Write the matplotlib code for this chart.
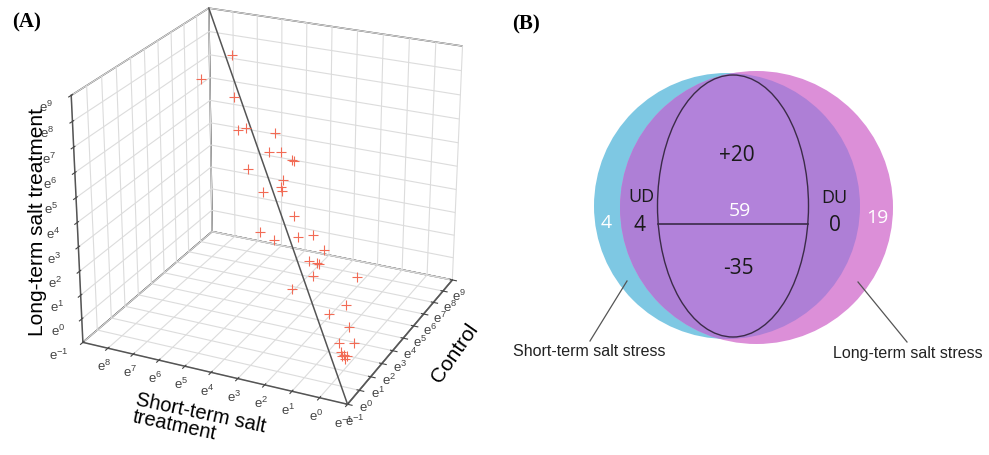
import numpy as np
import matplotlib
matplotlib.use("Agg")
import matplotlib.pyplot as plt
from matplotlib.patches import Circle, Ellipse

# ---- panel A data: log-expression (natural log) per gene ----
control = [7.13, 5.59, 6.97, 6.73, 6.06, 3.89, 4.37, 3.47, 2.72, 2.57,
           5.91, 3.36, 3.45, 3.39, 4.82, 2.60, 5.03, 3.99, 2.26, 1.27,
           0.62, 1.55, 1.02, 0.87, 1.27, 1.95, 2.65, -0.80, 0.20, -0.99,
           -0.42, 0.37, -0.71, -0.93, -0.77, -0.63, -0.56]
short_term = [7.13, 7.59, 6.97, 6.73, 6.06, 3.89, 4.37, 3.47, 2.72, 2.57,
              5.91, 3.36, 3.45, 3.39, 4.82, 2.60, 5.03, 3.99, 2.26, 1.27,
              0.62, 1.55, 1.02, 0.87, 1.27, -0.05, 2.65, -0.80, 0.20, -0.99,
              -0.42, -0.63, -0.71, -0.93, -0.77, -0.63, -0.56]
long_term = [7.97, 7.45, 6.27, 5.00, 5.47, 6.55, 5.49, 6.02, 6.16, 6.23,
             3.82, 4.96, 4.62, 4.48, 3.54, 3.97, 1.67, 2.04, 3.37, 4.11,
             3.98, 2.88, 3.16, 3.23, 2.46, 2.38, 0.91, 2.82, 1.70, 2.10,
             1.01, 0.64, 0.78, 0.91, 0.65, 0.67, 0.75]
ticks_ctrl = list(range(-1, 10))
ticks_short = list(range(-1, 9))
ticks_long = list(range(-1, 10))

# ---- panel B data: Venn counts ----
only_short = "4"
only_long = "19"
shared = "59"
shared_up = "+20"
shared_down = "-35"
ud_label, ud_count = "UD", "4"
du_label, du_count = "DU", "0"
set_names = ["Short-term salt stress", "Long-term salt stress"]

plt.rcParams["font.family"] = ["Liberation Sans", "DejaVu Sans"]
plt.rcParams["mathtext.fontset"] = "custom"
plt.rcParams["mathtext.rm"] = "Liberation Sans"
plt.rcParams["grid.color"] = "#dcdcdc"
plt.rcParams["grid.linewidth"] = 0.8


def exp_labels(ticks):
    return [f"$\\mathregular{{e^{{{t}}}}}$" for t in ticks]


fig = plt.figure(figsize=(9.89, 4.56), dpi=100)

# ================= (A) 3D scatter =================
ax = fig.add_axes([0.0, 0.019, 0.54, 1.08], projection="3d")
ax.set_proj_type("persp", focal_length=0.7)
ax.view_init(elev=24, azim=-155)
ax.set_box_aspect((1, 1, 0.92), zoom=0.95)

ax.plot([-1, 9], [-1, 9], [-1, 9], color="#555555", linewidth=1.1)
ax.scatter(control, short_term, long_term, marker="+", s=45,
           color="#f26b55", linewidths=0.8, depthshade=False)

ax.set_xlim(-1, 9)
ax.set_ylim(-1, 9)
ax.set_zlim(-1, 9)
ax.set_xticks(ticks_ctrl)
ax.set_yticks(ticks_short)
ax.set_zticks(ticks_long)
ax.set_xticklabels(exp_labels(ticks_ctrl))
ax.set_yticklabels(exp_labels(ticks_short))
ax.set_zticklabels(exp_labels(ticks_long))

for axis in (ax.xaxis, ax.yaxis, ax.zaxis):
    axis.set_pane_color((1, 1, 1, 1))
    axis.pane.set_edgecolor("#555555")
    axis.pane.set_linewidth(1.1)
    axis.line.set_color("#555555")
    axis.line.set_linewidth(1.1)
    axis._axinfo["tick"]["color"] = "#555555"
    axis.set_tick_params(labelsize=9.5, colors="#444444", pad=-3)
ax.zaxis.set_tick_params(pad=3)

ax.set_xlabel("")
ax.set_ylabel("")
ax.set_zlabel("")

fig.text(0.038, 0.513, "Long-term salt treatment", rotation=90,
         fontsize=15, ha="center", va="center")
fig.text(0.132, 0.075, "Short-term salt\ntreatment", rotation=-12,
         fontsize=14.5, ha="left", va="center", multialignment="left",
         linespacing=0.95)
fig.text(0.460, 0.226, "Control", rotation=55, fontsize=15,
         ha="center", va="center")

fig.text(0.012, 0.95, "(A)", fontsize=15, fontweight="bold",
         family="Liberation Serif", ha="left", va="center")

# ================= (B) Venn =================
axv = fig.add_axes([0.5, 0.0, 0.5, 1.0])
axv.set_xlim(494.5, 989)
axv.set_ylim(456, 0)
axv.set_aspect("equal")
axv.axis("off")

blue = Circle((727, 207), 133, facecolor="#7ec8e3", edgecolor="none")
pink = Circle((756.5, 208.5), 136.5, facecolor="#dc8fd8", edgecolor="none")
axv.add_patch(blue)
axv.add_patch(pink)
overlap = Circle((727, 207), 133, facecolor="#ae7fd6", edgecolor="none")
axv.add_patch(overlap)
overlap.set_clip_path(pink)

ecx, ecy, ew, eh = 733, 207, 151, 262
axv.add_patch(Ellipse((ecx, ecy), ew, eh, facecolor="#b282da",
                      edgecolor="#3b2b48", linewidth=1.0))
ly = 225
half = ew / 2 * np.sqrt(1 - ((ly - ecy) / (eh / 2)) ** 2)
axv.plot([ecx - half, ecx + half], [ly, ly], color="#3b2b48", linewidth=1.2)

vfont = dict(family=["Open Sans", "DejaVu Sans"], ha="center", va="center")
axv.text(737, 156, shared_up, fontsize=15, color="#1a1a1a", **vfont)
axv.text(740, 211, shared, fontsize=14, color="white", **vfont)
axv.text(738, 269, shared_down, fontsize=15, color="#1a1a1a", **vfont)
axv.text(641, 197, ud_label, fontsize=13, color="#1a1a1a", **vfont)
axv.text(640, 226, ud_count, fontsize=15, color="#1a1a1a", **vfont)
axv.text(834, 198, du_label, fontsize=13, color="#1a1a1a", **vfont)
axv.text(835, 226, du_count, fontsize=15, color="#1a1a1a", **vfont)
axv.text(606, 223, only_short, fontsize=14, color="white", **vfont)
axv.text(877, 218, only_long, fontsize=14, color="white", **vfont)

axv.plot([590, 627], [342, 282], color="#555555", linewidth=0.9)
axv.plot([907, 858], [343, 283], color="#555555", linewidth=0.9)
axv.text(589, 352, set_names[0], fontsize=11.5, color="#222222",
         family=["Liberation Sans", "DejaVu Sans"], ha="center", va="center")
axv.text(908, 354, set_names[1], fontsize=11.5, color="#222222",
         family=["Liberation Sans", "DejaVu Sans"], ha="center", va="center")

fig.text(0.518, 0.947, "(B)", fontsize=15, fontweight="bold",
         family="Liberation Serif", ha="left", va="center")

fig.savefig("out.png", dpi=100)
